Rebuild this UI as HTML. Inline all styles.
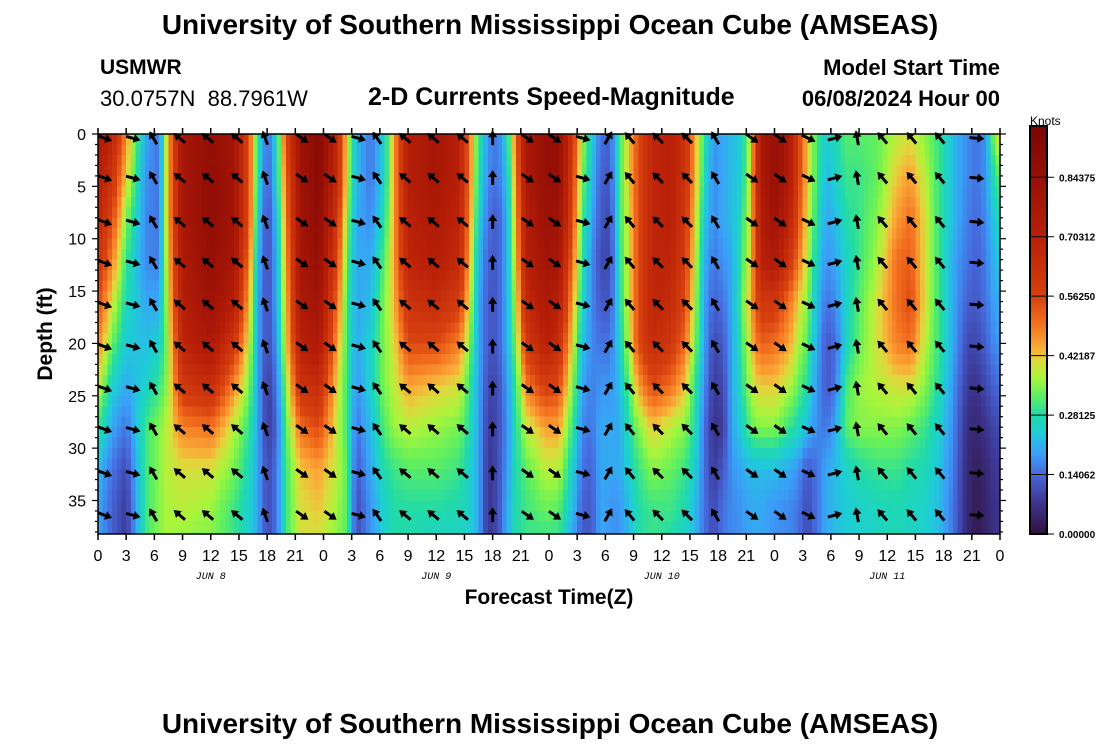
<!DOCTYPE html>
<html><head><meta charset="utf-8">
<style>
html,body{margin:0;padding:0;background:#fff;}
body{width:1100px;height:750px;overflow:hidden;position:relative;font-family:"Liberation Sans",sans-serif;}
.t{position:absolute;white-space:nowrap;color:#000;}
</style></head><body>
<div class="t" style="left:0;width:1100px;text-align:center;top:9px;font-size:28px;font-weight:bold;">University of Southern Mississippi Ocean Cube (AMSEAS)</div>
<div class="t" style="left:100px;top:56px;font-size:21px;font-weight:bold;">USMWR</div>
<div class="t" style="left:100px;top:86px;font-size:22px;">30.0757N&nbsp;&nbsp;88.7961W</div>
<div class="t" style="left:368px;top:83px;font-size:25px;font-weight:bold;">2-D Currents Speed-Magnitude</div>
<div class="t" style="right:100px;top:55px;font-size:22px;font-weight:bold;">Model Start Time</div>
<div class="t" style="right:100px;top:86px;font-size:22px;font-weight:bold;">06/08/2024 Hour 00</div>
<div class="t" style="left:0;width:1100px;text-align:center;top:708px;font-size:28px;font-weight:bold;">University of Southern Mississippi Ocean Cube (AMSEAS)</div>
<svg id="chart" width="1100" height="750" style="position:absolute;left:0;top:0;" xmlns="http://www.w3.org/2000/svg"></svg>
<script>
// ---- data ----
const depthNodes = [0,4,8,12,16,20,24,28,32,36,38.2];
const timeNodes = [0,1.5,3,5,6.5,7.3,9,12,14.5,16,17,18,19,20,21.5,23.5,25.5,26.5,27.5,29,30.5,31.5,33,36,38.5,39.5,40.5,41.5,42.5,43.5,44.5,45.5,47.6,49,50.5,51.5,52.5,53.5,54.5,55.5,56.5,57.5,59,61,62.5,63.5,64.5,65.5,66.5,67.5,68.5,69.5,70.5,72,73.5,74.5,75.5,76.5,77.5,78.5,79.5,81,83,85,86.5,88,89.5,91,92.5,93.5,94.5,95.5,96];
const speedGrid = [
[0.75,0.72,0.68,0.62,0.55,0.48,0.4,0.3,0.22,0.2,0.2],
[0.68,0.62,0.55,0.48,0.4,0.33,0.25,0.2,0.15,0.13,0.13],
[0.47,0.42,0.35,0.3,0.27,0.24,0.2,0.15,0.1,0.08,0.08],
[0.2,0.18,0.17,0.17,0.2,0.22,0.25,0.3,0.3,0.3,0.3],
[0.15,0.15,0.15,0.16,0.2,0.25,0.3,0.35,0.35,0.35,0.35],
[0.4,0.4,0.4,0.38,0.36,0.34,0.35,0.38,0.38,0.37,0.37],
[0.78,0.78,0.78,0.75,0.72,0.68,0.6,0.48,0.4,0.38,0.36],
[0.85,0.87,0.87,0.85,0.82,0.76,0.65,0.5,0.4,0.36,0.35],
[0.8,0.8,0.8,0.78,0.72,0.6,0.47,0.38,0.34,0.3,0.3],
[0.55,0.55,0.55,0.5,0.45,0.4,0.35,0.3,0.27,0.25,0.25],
[0.28,0.28,0.25,0.22,0.2,0.2,0.2,0.2,0.2,0.2,0.2],
[0.14,0.12,0.1,0.1,0.1,0.1,0.08,0.08,0.1,0.1,0.1],
[0.25,0.25,0.22,0.2,0.2,0.18,0.15,0.13,0.15,0.15,0.15],
[0.55,0.5,0.48,0.45,0.42,0.4,0.35,0.32,0.3,0.3,0.3],
[0.8,0.8,0.8,0.78,0.75,0.7,0.62,0.5,0.42,0.4,0.4],
[0.92,0.9,0.88,0.85,0.8,0.75,0.65,0.55,0.45,0.42,0.4],
[0.65,0.65,0.6,0.55,0.5,0.45,0.4,0.38,0.38,0.36,0.35],
[0.4,0.38,0.35,0.32,0.3,0.3,0.3,0.3,0.32,0.32,0.32],
[0.22,0.22,0.2,0.2,0.2,0.2,0.18,0.15,0.12,0.1,0.1],
[0.15,0.15,0.17,0.2,0.22,0.25,0.25,0.22,0.2,0.18,0.18],
[0.25,0.25,0.28,0.32,0.35,0.35,0.35,0.32,0.28,0.25,0.25],
[0.45,0.45,0.45,0.45,0.43,0.4,0.38,0.36,0.3,0.28,0.28],
[0.72,0.72,0.7,0.68,0.62,0.55,0.45,0.38,0.32,0.28,0.28],
[0.78,0.78,0.75,0.72,0.65,0.55,0.42,0.36,0.32,0.28,0.26],
[0.7,0.7,0.68,0.65,0.58,0.48,0.4,0.34,0.3,0.27,0.26],
[0.5,0.5,0.48,0.45,0.4,0.35,0.3,0.28,0.25,0.25,0.25],
[0.3,0.28,0.25,0.22,0.2,0.2,0.2,0.2,0.2,0.2,0.2],
[0.18,0.17,0.15,0.13,0.12,0.12,0.1,0.08,0.07,0.07,0.07],
[0.15,0.15,0.12,0.12,0.12,0.12,0.1,0.1,0.1,0.1,0.1],
[0.25,0.22,0.2,0.2,0.2,0.2,0.18,0.17,0.18,0.2,0.2],
[0.5,0.48,0.45,0.42,0.38,0.35,0.3,0.28,0.28,0.28,0.28],
[0.75,0.75,0.72,0.7,0.65,0.58,0.48,0.38,0.32,0.3,0.3],
[0.85,0.85,0.83,0.8,0.75,0.7,0.58,0.45,0.38,0.33,0.3],
[0.85,0.85,0.82,0.78,0.72,0.65,0.55,0.45,0.38,0.32,0.3],
[0.6,0.58,0.55,0.5,0.45,0.4,0.35,0.3,0.25,0.22,0.2],
[0.38,0.35,0.32,0.3,0.27,0.24,0.2,0.17,0.15,0.13,0.12],
[0.25,0.23,0.2,0.18,0.17,0.17,0.16,0.15,0.13,0.12,0.12],
[0.15,0.13,0.12,0.1,0.12,0.15,0.18,0.2,0.2,0.2,0.2],
[0.13,0.12,0.1,0.1,0.12,0.15,0.18,0.2,0.2,0.18,0.18],
[0.3,0.3,0.3,0.28,0.27,0.25,0.22,0.2,0.2,0.18,0.18],
[0.42,0.42,0.4,0.4,0.4,0.38,0.32,0.28,0.25,0.22,0.22],
[0.55,0.55,0.55,0.55,0.55,0.55,0.45,0.35,0.3,0.28,0.28],
[0.68,0.68,0.68,0.68,0.68,0.65,0.55,0.42,0.35,0.3,0.3],
[0.7,0.7,0.7,0.68,0.65,0.6,0.5,0.38,0.33,0.3,0.28],
[0.62,0.62,0.6,0.58,0.55,0.5,0.42,0.35,0.3,0.27,0.25],
[0.45,0.45,0.42,0.4,0.38,0.35,0.3,0.28,0.25,0.22,0.22],
[0.3,0.28,0.25,0.22,0.2,0.2,0.18,0.15,0.15,0.15,0.15],
[0.18,0.17,0.17,0.15,0.13,0.1,0.08,0.07,0.08,0.1,0.1],
[0.2,0.2,0.2,0.18,0.15,0.12,0.1,0.08,0.12,0.15,0.15],
[0.22,0.22,0.22,0.2,0.2,0.2,0.2,0.2,0.18,0.17,0.17],
[0.25,0.25,0.28,0.3,0.32,0.3,0.28,0.25,0.2,0.18,0.18],
[0.4,0.42,0.42,0.42,0.45,0.42,0.38,0.33,0.22,0.2,0.2],
[0.75,0.75,0.72,0.7,0.6,0.52,0.42,0.35,0.22,0.2,0.2],
[0.85,0.85,0.82,0.75,0.6,0.5,0.42,0.35,0.22,0.18,0.18],
[0.75,0.75,0.7,0.62,0.5,0.45,0.38,0.3,0.2,0.17,0.17],
[0.58,0.58,0.55,0.5,0.42,0.38,0.33,0.27,0.18,0.15,0.15],
[0.42,0.42,0.4,0.38,0.35,0.32,0.28,0.22,0.12,0.1,0.1],
[0.3,0.3,0.28,0.25,0.22,0.2,0.18,0.17,0.15,0.15,0.15],
[0.25,0.22,0.2,0.18,0.15,0.12,0.12,0.15,0.2,0.2,0.2],
[0.27,0.25,0.22,0.2,0.17,0.14,0.15,0.2,0.22,0.22,0.22],
[0.32,0.3,0.28,0.25,0.25,0.25,0.3,0.32,0.25,0.24,0.24],
[0.32,0.3,0.3,0.3,0.32,0.33,0.36,0.35,0.28,0.25,0.25],
[0.33,0.33,0.35,0.37,0.4,0.4,0.38,0.35,0.3,0.26,0.26],
[0.38,0.42,0.45,0.5,0.5,0.48,0.4,0.35,0.3,0.27,0.27],
[0.4,0.45,0.5,0.52,0.55,0.5,0.4,0.33,0.28,0.26,0.26],
[0.35,0.38,0.4,0.4,0.4,0.38,0.35,0.3,0.27,0.25,0.25],
[0.3,0.3,0.3,0.3,0.3,0.3,0.28,0.25,0.23,0.22,0.22],
[0.22,0.22,0.22,0.2,0.2,0.2,0.18,0.17,0.16,0.15,0.15],
[0.17,0.17,0.16,0.15,0.13,0.1,0.08,0.06,0.05,0.05,0.05],
[0.15,0.15,0.14,0.13,0.12,0.1,0.07,0.05,0.03,0.02,0.02],
[0.18,0.18,0.17,0.16,0.15,0.13,0.1,0.07,0.05,0.04,0.04],
[0.38,0.3,0.25,0.22,0.2,0.18,0.14,0.1,0.08,0.07,0.07],
[0.42,0.32,0.27,0.24,0.2,0.18,0.14,0.1,0.08,0.07,0.07]
];
const arrowTimes = [0.7,3.7,5.9,8.7,11.7,14.8,17.8,21.7,24.7,27.7,29.7,32.7,35.7,38.8,42,45.7,48.6,51.6,54.3,56.6,59.6,62.7,65.7,69.6,72.6,75.6,78.4,80.8,83.5,86.6,89.6,93.5];
const arrowAngles = [-20,-15,120,140,140,140,110,-35,-35,-15,125,140,140,140,90,-35,-35,-15,60,130,135,135,120,-35,-35,-25,15,100,130,130,130,-5];
const arrowDepths = [0.4,4.2,8.4,12.3,16.3,20.3,24.3,28.2,32.4,36.4];
const hourTicks = [0,3,6,9,12,15,18,21,24,27,30,33,36,39,42,45,48,51,54,57,60,63,66,69,72,75,78,81,84,87,90,93,96];
const depthTicks = [0,5,10,15,20,25,30,35];
const dayLabels = ["JUN 8","JUN 9","JUN 10","JUN 11"];
const cbTicks = ["0.00000","0.14062","0.28125","0.42187","0.56250","0.70312","0.84375"];

// ---- layout ----
const X0=98, X1=1000, Y0=134, Y1=534, TMAX=96, DMAX=38.2;
const xs = t => X0 + (t/TMAX)*(X1-X0);
const ys = d => Y0 + (d/DMAX)*(Y1-Y0);
const CB_X=1030, CB_W=17, CB_TOP=126, CB_BOT=534, CB_MAX=0.965;
const cbY = v => CB_BOT - (v/CB_MAX)*(CB_BOT-CB_TOP);

const stops=[[0,[48,18,59]],[0.07,[60,50,140]],[0.14,[70,105,220]],[0.19,[58,160,248]],[0.24,[30,205,215]],[0.28,[32,218,170]],[0.33,[100,240,90]],[0.37,[170,245,60]],[0.41,[225,215,60]],[0.44,[250,170,55]],[0.5,[242,110,30]],[0.56,[215,65,15]],[0.7,[185,32,8]],[0.84,[152,16,6]],[0.97,[122,4,3]]];
function cmap(v){
  if(v<=stops[0][0]) return stops[0][1];
  for(let i=1;i<stops.length;i++){ if(v<=stops[i][0]){const a=stops[i-1],b=stops[i];const f=(v-a[0])/(b[0]-a[0]);return a[1].map((c,k)=>Math.round(c+(b[1][k]-c)*f));}}
  return stops[stops.length-1][1];
}
function rgb(c){return 'rgb('+c[0]+','+c[1]+','+c[2]+')';}
function interp(arr,v){ for(let i=1;i<arr.length;i++){ if(v<=arr[i]){return [i-1,(v-arr[i-1])/(arr[i]-arr[i-1])];}} return [arr.length-2,1]; }
function speedAt(t,d){
  const [i,fi]=interp(timeNodes,t), [j,fj]=interp(depthNodes,d);
  const a=speedGrid[i][j],b=speedGrid[i][j+1],c=speedGrid[i+1][j],e=speedGrid[i+1][j+1];
  return (a*(1-fj)+b*fj)*(1-fi)+(c*(1-fj)+e*fj)*fi;
}
const NS='http://www.w3.org/2000/svg';
const svg=document.getElementById('chart');
function el(tag,attrs,parent){const e=document.createElementNS(NS,tag);for(const k in attrs)e.setAttribute(k,attrs[k]);(parent||svg).appendChild(e);return e;}

// heatmap
const hm=el('g',{'shape-rendering':'crispEdges'});


const DT=0.5, DD=1;
for(let t=0;t<TMAX;t+=DT){
  for(let d=0;d<DMAX;d+=DD){
    const v=speedAt(t+DT/2,Math.min(d+DD/2,DMAX));
    const x=xs(t), y=ys(d), w=xs(t+DT)-x+0.6, h=ys(Math.min(d+DD,DMAX))-y+0.6;
    const r=el('rect',{x:x.toFixed(2),y:y.toFixed(2),width:w.toFixed(2),height:h.toFixed(2),fill:rgb(cmap(v))},hm);
    
    
  }
}
// arrows
const ag=el('g',{fill:'#000',stroke:'#000'});


arrowTimes.forEach((t,i)=>{
  arrowDepths.forEach(d=>{
    const cx=xs(t), cy=ys(d), a=arrowAngles[i];
    const g=el('g',{transform:'translate('+cx.toFixed(1)+','+cy.toFixed(1)+') rotate('+(-a)+')'},ag);
    
    
    el('line',{x1:-7,y1:0,x2:3,y2:0,'stroke-width':3},g);
    el('polygon',{points:'8,0 1,-4.5 1,4.5',stroke:'none'},g);
  });
});
// frame
const fr=el('rect',{x:X0,y:Y0,width:X1-X0,height:Y1-Y0,fill:'none',stroke:'#000','stroke-width':1.5});


// x ticks and labels
hourTicks.forEach(h=>{
  const x=xs(h);
  el('line',{x1:x,y1:Y1,x2:x,y2:Y1+6,stroke:'#000','stroke-width':1.5});
  el('line',{x1:x,y1:Y0,x2:x,y2:Y0-6,stroke:'#000','stroke-width':1.5});
  const tx=el('text',{x:x,y:Y1+27,'text-anchor':'middle','font-size':16,'font-family':'Liberation Sans, sans-serif'});
  tx.textContent=String(h%24);
  
  
});
dayLabels.forEach((lab,i)=>{
  const tx=el('text',{x:xs(i*24+12),y:Y1+45,'text-anchor':'middle','font-size':10,'font-style':'italic','font-family':'Liberation Mono, monospace'});
  tx.textContent=lab;
  
  
});
// y ticks
for(let d=0;d<=38;d++){
  const y=ys(d), major=d%5===0;
  el('line',{x1:X0-(major?6:3),y1:y,x2:X0,y2:y,stroke:'#000','stroke-width':1.2});
  el('line',{x1:X1,y1:y,x2:X1+(major?6:3),y2:y,stroke:'#000','stroke-width':1.2});
}
depthTicks.forEach(d=>{
  const tx=el('text',{x:X0-12,y:ys(d)+6,'text-anchor':'end','font-size':16,'font-family':'Liberation Sans, sans-serif'});
  tx.textContent=String(d);
  
  
});
const yt=el('text',{x:0,y:0,transform:'translate(52,334) rotate(-90)','text-anchor':'middle','font-size':21,'font-weight':'bold','font-family':'Liberation Sans, sans-serif'});
yt.textContent='Depth (ft)';


const xt=el('text',{x:549,y:604,'text-anchor':'middle','font-size':21,'font-weight':'bold','font-family':'Liberation Sans, sans-serif'});
xt.textContent='Forecast Time(Z)';


// colorbar
const cb=el('g',{'shape-rendering':'crispEdges'});


for(let y=CB_TOP;y<CB_BOT;y+=2){
  const v=(CB_BOT-y-1)/(CB_BOT-CB_TOP)*CB_MAX;
  el('rect',{x:CB_X,y:y,width:CB_W,height:2.5,fill:rgb(cmap(v))},cb);
}
el('rect',{x:CB_X,y:CB_TOP,width:CB_W,height:CB_BOT-CB_TOP,fill:'none',stroke:'#000','stroke-width':2},cb);
cbTicks.forEach(s=>{
  const y=cbY(parseFloat(s));
  el('line',{x1:CB_X,y1:y,x2:CB_X+CB_W+7,y2:y,stroke:'#000','stroke-width':1});
  const tx=el('text',{x:CB_X+CB_W+12,y:y+4,'font-size':10,'font-weight':'bold','font-family':'Liberation Sans, sans-serif'});
  tx.textContent=s;
  
  
});
const kn=el('text',{x:1030,y:125,'font-size':12,'font-family':'Liberation Sans, sans-serif'});
kn.textContent='Knots';


</script>
</body></html>
